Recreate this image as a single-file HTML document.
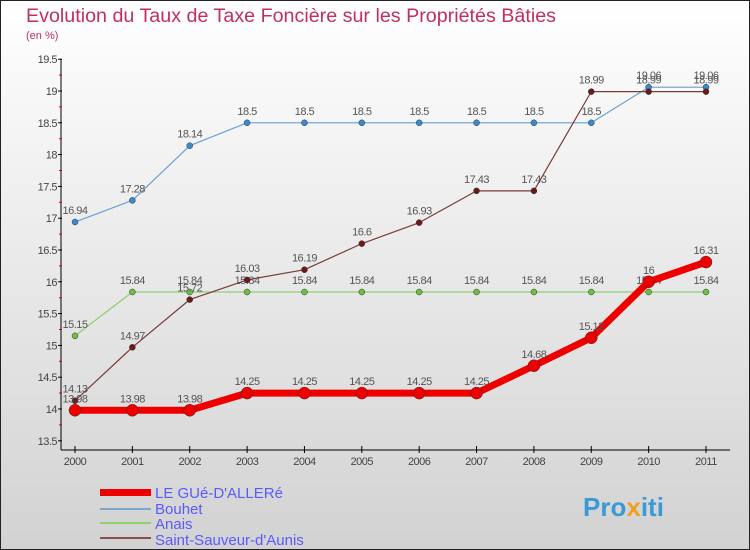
<!DOCTYPE html>
<html><head><meta charset="utf-8"><style>
body{margin:0}
svg{display:block;font-family:"Liberation Sans",sans-serif}
</style></head><body>
<svg id="c" width="750" height="550" xmlns="http://www.w3.org/2000/svg">
<defs><linearGradient id="bg" x1="0" y1="0" x2="0" y2="1"><stop offset="0" stop-color="#ffffff"/><stop offset="1" stop-color="#d2d2d2"/></linearGradient></defs>
<rect x="0.5" y="0.5" width="749" height="549" fill="url(#bg)" stroke="#222"/>
<text x="26" y="22" font-size="19" fill="#c0305f" textLength="530" lengthAdjust="spacingAndGlyphs">Evolution du Taux de Taxe Foncière sur les Propriétés Bâties</text>
<text x="26" y="39" font-size="11" fill="#c0305f">(en %)</text>
<g id="axes"></g><g id="series"></g>
<g>
<rect x="100" y="489" width="51" height="7" fill="#e00"/>
<text x="155" y="498" font-size="15" fill="#5a5aff">LE GUé-D'ALLERé</text>
<rect x="100" y="508" width="51" height="2" fill="#7aa8cc"/>
<text x="155" y="514" font-size="15" fill="#5a5aff">Bouhet</text>
<rect x="100" y="522" width="51" height="2" fill="#8fd070"/>
<text x="155" y="529" font-size="15" fill="#5a5aff">Anais</text>
<rect x="100" y="537" width="51" height="2" fill="#8a5050"/>
<text x="155" y="545" font-size="15" fill="#5a5aff">Saint-Sauveur-d'Aunis</text>
</g>
<text x="583" y="516" font-size="26" font-weight="bold" fill="#3a9ad8">Pro<tspan fill="#f0a020">x</tspan>iti</text>
</svg>
<script>
const years=[2000,2001,2002,2003,2004,2005,2006,2007,2008,2009,2010,2011];
const yTicks=[13.5,14,14.5,15,15.5,16,16.5,17,17.5,18,18.5,19,19.5];
const leGue=[13.98,13.98,13.98,14.25,14.25,14.25,14.25,14.25,14.68,15.12,16,16.31];
const bouhet=[16.94,17.28,18.14,18.5,18.5,18.5,18.5,18.5,18.5,18.5,19.06,19.06];
const anais=[15.15,15.84,15.84,15.84,15.84,15.84,15.84,15.84,15.84,15.84,15.84,15.84];
const saintSauveur=[14.13,14.97,15.72,16.03,16.19,16.6,16.93,17.43,17.43,18.99,18.99,18.99];
const NS="http://www.w3.org/2000/svg";
const x=i=>75+i*(706-75)/11;
const y=v=>409-(v-14)*63.6;
function mk(t,a,p){const e=document.createElementNS(NS,t);for(const k in a)e.setAttribute(k,a[k]);p.appendChild(e);return e;}
const ax=document.getElementById('axes');
let l=mk('line',{x1:61,y1:59,x2:61,y2:450,stroke:'#000'},ax);


l=mk('line',{x1:61,y1:450,x2:730,y2:450,stroke:'#000'},ax);


yTicks.forEach((v,i)=>{
 mk('line',{x1:58,y1:y(v),x2:62,y2:y(v),stroke:'#000'},ax);
 if(i<yTicks.length-1)mk('line',{x1:59,y1:y(v+0.25),x2:62,y2:y(v+0.25),stroke:'#d00'},ax);
 const t=mk('text',{x:57,y:y(v)+4,'font-size':11,fill:'#444','text-anchor':'end','letter-spacing':'-0.5'},ax);
 t.textContent=v;
 
 
});
years.forEach((yr,i)=>{
 mk('line',{x1:x(i),y1:446,x2:x(i),y2:453,stroke:'#000'},ax);
 const t=mk('text',{x:x(i),y:465,'font-size':11,fill:'#444','text-anchor':'middle','letter-spacing':'-0.5'},ax);
 t.textContent=yr;
 
 
});
const sg=document.getElementById('series');
function draw(data,name,col,w,r,dot){
 const g=mk('g',{},sg);
 
 
 const p=mk('polyline',{points:data.map((v,i)=>x(i)+','+y(v)).join(' '),fill:'none',stroke:col,'stroke-width':w,'stroke-linejoin':'round'},g);
 
 
 data.forEach((v,i)=>{
  const c=mk('circle',{cx:x(i),cy:y(v),r:r,fill:dot,stroke:'#333','stroke-width':0.5},g);
  
  
  const t=mk('text',{x:x(i),y:y(v)-8,'font-size':11,fill:'#555','text-anchor':'middle','letter-spacing':'-0.5'},g);
  t.textContent=v;
  
  
 });
}
draw(bouhet,'bouhet','#6aa0d0',1.2,3,'#3a8ad0');
draw(anais,'anais','#8fd070',1.2,3,'#6cc040');
draw(saintSauveur,'saint-sauveur','#7a3a3a',1.2,3,'#6a1a1a');
draw(leGue,'le-gue','#ee0000',7,6,'#ee0000');
</script>
</body></html>
